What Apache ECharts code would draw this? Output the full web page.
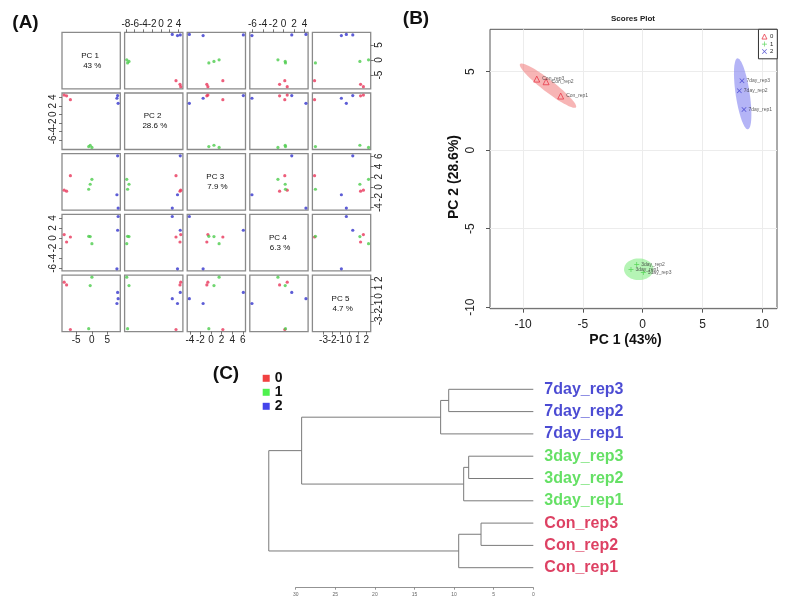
<!DOCTYPE html>
<html><head><meta charset="utf-8">
<script src="https://cdn.jsdelivr.net/npm/echarts@6/dist/echarts.min.js"></script>
<style>html,body{margin:0;padding:0;background:#fff}#c{width:801px;height:605px}</style>
</head><body><div id="c"></div>
<script>
// ---------- data ----------
const sampleNames = ['Con_rep1','Con_rep2','Con_rep3','3day_rep1','3day_rep2','3day_rep3','7day_rep1','7day_rep2','7day_rep3'];
const sampleGroups = [0,0,0,1,1,1,2,2,2];
const groupNames = ['0','1','2'];
const pc1 = [-6.86,-8.08,-8.86,-0.98,-0.50,0.05,8.47,8.08,8.30];
const pc2 = [3.44,4.35,4.52,-7.60,-7.28,-7.79,2.59,3.78,4.41];
const pc3 = [2.23,-0.80,-0.60,-0.42,0.55,1.52,-4.10,-1.50,6.10];
const pc4 = [0.22,-0.78,0.69,0.35,0.30,-1.10,4.29,-6.10,1.56];
const pc5 = [-4.05,1.32,1.65,-3.95,1.24,2.25,-0.34,-0.92,0.41];
const pcNames = ['PC 1','PC 2','PC 3','PC 4','PC 5'];
const pcVariance = ['43 %','28.6 %','7.9 %','6.3 %','4.7 %'];
const pc1Ticks = [-5,0,5];
const pc2Ticks = [-8,-6,-4,-2,0,2,4];
const pc3Ticks = [-4,-2,0,2,4,6];
const pc4Ticks = [-6,-4,-2,0,2,4];
const pc5Ticks = [-4,-3,-2,-1,0,1,2];
// scores plot (B)
const scoresXRange = [-12.77, 11.23];
const scoresYRange = [-10.1, 7.69];
const scoresXTicks = [-10,-5,0,5,10];
const scoresYTicks = [-10,-5,0,5];
const ellipseCx = [-7.92, -0.33, 8.36];
const ellipseCy = [4.10, -7.59, 3.58];
const ellipseU = [[2.34,-1.38],[1.23,0.0],[-0.44,2.26]];
const ellipseV = [[0.307,0.302],[0.0,0.69],[0.58,0.066]];
// dendrogram (C)
const leafLabels = ['7day_rep3','7day_rep2','7day_rep1','3day_rep3','3day_rep2','3day_rep1','Con_rep3','Con_rep2','Con_rep1'];
const leafGroups = [2,2,2,1,1,1,0,0,0];
const mergeA = [-1, 1, -4, 3, -7, 5, 2, 7];
const mergeB = [-2, -3, -5, -6, -8, -9, 4, 6];
const mergeHeight = [10.68, 11.70, 8.16, 8.79, 6.60, 9.42, 29.25, 33.40];
const heightTicks = [30,25,20,15,10,5,0];

// ---------- styles / layout ----------
const FONT = 'Liberation Sans, Arial, sans-serif';
const aColors = ['#e8365a','#4ccc4c','#3434cc'];
const bColors = ['#e8394a','#3fcf3f','#3a3acc'];
const ellipseFill = ['rgba(240,120,120,0.55)','rgba(120,235,120,0.55)','rgba(130,130,240,0.6)'];
const leafTextColors = ['#d4123c','#3ed83e','#1e1ec8'];
const legendCColors = ['#ee1111','#22ee22','#1515e6'];

const A_LEFT = 62, A_COLSTEP = 62.6, A_W = 58.3, A_TOP = 32.3, A_ROWSTEP = 60.7, A_H = 56.5;

const pcs = [pc1,pc2,pc3,pc4,pc5];
const pcTicks = [pc1Ticks,pc2Ticks,pc3Ticks,pc4Ticks,pc5Ticks];
const pcRanges = pcs.map(a => { const mn = Math.min(...a), mx = Math.max(...a), s = mx - mn; return [mn - 0.04*s, mx + 0.04*s]; });

const grids = [], xAxes = [], yAxes = [], series = [], graphics = [];

function pcAxis(k, g, pos, showIt, isY) {
  const ticks = pcTicks[k];
  const step = ticks[1] - ticks[0];
  return {
    type: 'value', gridIndex: g, min: pcRanges[k][0], max: pcRanges[k][1], position: pos,
    show: showIt, minInterval: step, maxInterval: step,
    axisLine: {show: false, onZero: false}, splitLine: {show: false},
    axisTick: {show: showIt, length: 3, lineStyle: {color: '#555', width: 0.8}, customValues: ticks},
    axisLabel: {show: showIt, customValues: ticks, fontSize: 10, color: '#222', fontFamily: FONT,
      rotate: isY ? 90 : 0, margin: isY ? 4 : 3.5,
      formatter: v => ticks.some(t => Math.abs(t - v) < 1e-6) ? String(Math.round(v)) : ''}
  };
}

for (let i = 0; i < 5; i++) {
  for (let j = 0; j < 5; j++) {
    const g = grids.length;
    const left = A_LEFT + j*A_COLSTEP, top = A_TOP + i*A_ROWSTEP;
    grids.push({left, top, width: A_W, height: A_H, show: true, borderColor: '#8a8a8a', borderWidth: 1.3,
      backgroundColor: 'transparent', outerBoundsMode: 'none', containLabel: false});
    const topAx = (i === 0 && j % 2 === 1), botAx = (i === 4 && j % 2 === 0);
    const leftAx = (j === 0 && i % 2 === 1), rightAx = (j === 4 && i % 2 === 0);
    xAxes.push(pcAxis(j, g, topAx ? 'top' : 'bottom', topAx || botAx, false));
    yAxes.push(pcAxis(i, g, rightAx ? 'right' : 'left', leftAx || rightAx, true));
    if (i === j) {
      graphics.push({type: 'text', x: left + A_W/2, y: top + A_H/2, silent: true,
        style: {text: pcNames[i] + ' \n ' + pcVariance[i], font: '8px ' + FONT, fill: '#111',
          textAlign: 'center', textVerticalAlign: 'middle', lineHeight: 10}});
    } else {
      series.push({type: 'scatter', xAxisIndex: g, yAxisIndex: g, symbol: 'circle', symbolSize: 3.2, silent: true,
        data: sampleNames.map((n, s) => ({name: n, value: [pcs[j][s], pcs[i][s]], itemStyle: {color: aColors[sampleGroups[s]]}}))});
    }
  }
}

// ---------- panel B ----------
const gB = grids.length;
grids.push({left: 490, top: 29.3, width: 287, height: 279.4, show: true, borderColor: '#555', borderWidth: 1,
  outerBoundsMode: 'none', containLabel: false});
xAxes.push({type: 'value', gridIndex: gB, min: scoresXRange[0], max: scoresXRange[1], minInterval: 5, maxInterval: 5,
  name: 'PC 1 (43%)', nameLocation: 'middle', nameGap: 24,
  nameTextStyle: {fontSize: 14, fontWeight: 'bold', color: '#111', fontFamily: FONT, padding: [0,16,0,0]},
  axisLine: {show: false, onZero: false},
  splitLine: {show: true, lineStyle: {color: '#ececec', width: 1}},
  axisTick: {show: true, length: 4, lineStyle: {color: '#555'}, customValues: scoresXTicks},
  axisLabel: {customValues: scoresXTicks, fontSize: 12, color: '#222', fontFamily: FONT, margin: 10,
    formatter: v => scoresXTicks.includes(v) ? String(v) : ''}});
yAxes.push({type: 'value', gridIndex: gB, min: scoresYRange[0], max: scoresYRange[1], minInterval: 5, maxInterval: 5,
  name: 'PC 2 (28.6%)', nameLocation: 'middle', nameGap: 29, nameRotate: 90,
  nameTextStyle: {fontSize: 14, fontWeight: 'bold', color: '#111', fontFamily: FONT, padding: [0,16,0,0]},
  axisLine: {show: false, onZero: false},
  splitLine: {show: true, lineStyle: {color: '#ececec', width: 1}},
  axisTick: {show: true, length: 4, lineStyle: {color: '#555'}, customValues: scoresYTicks},
  axisLabel: {customValues: scoresYTicks, fontSize: 12, color: '#222', fontFamily: FONT, margin: 13, rotate: 90,
    formatter: v => scoresYTicks.includes(v) ? String(v) : ''}});

series.push({type: 'custom', xAxisIndex: gB, yAxisIndex: gB, silent: true, z: 1,
  data: ellipseCx.map((cx, k) => [cx, ellipseCy[k], ellipseU[k][0], ellipseU[k][1], ellipseV[k][0], ellipseV[k][1], k]),
  renderItem: (params, api) => {
    const cx = api.value(0), cy = api.value(1), ux = api.value(2), uy = api.value(3), vx = api.value(4), vy = api.value(5);
    const pts = [];
    for (let t = 0; t < 72; t++) {
      const a = t / 72 * Math.PI * 2;
      pts.push(api.coord([cx + ux*Math.cos(a) + vx*Math.sin(a), cy + uy*Math.cos(a) + vy*Math.sin(a)]));
    }
    return {type: 'polygon', shape: {points: pts}, style: {fill: ellipseFill[api.value(6)], stroke: null}};
  }});

const bSymbols = ['triangle',
  'path://M0,4.3H10V5.7H0Z M4.3,0H5.7V10H4.3Z',
  'path://M1,0L5,4L9,0L10,1L6,5L10,9L9,10L5,6L1,10L0,9L4,5L0,1Z'];
const bSymbolSize = [6, 5, 5];
const bItemStyles = [
  {color: 'rgba(0,0,0,0)', borderColor: bColors[0], borderWidth: 1},
  {color: bColors[1]},
  {color: bColors[2]}];
groupNames.forEach((gname, gi) => {
  const idx = sampleNames.map((_, s) => s).filter(s => sampleGroups[s] === gi);
  series.push({type: 'scatter', name: gname, xAxisIndex: gB, yAxisIndex: gB, z: 3, silent: true,
    symbol: bSymbols[gi], symbolSize: bSymbolSize[gi],
    itemStyle: bItemStyles[gi],
    label: {show: true, position: 'right', distance: 2, fontSize: 5, color: '#333', fontFamily: FONT, formatter: p => p.name},
    data: idx.map(s => ({name: sampleNames[s], value: [pc1[s], pc2[s]]}))});
});

// ---------- panel C ----------
const gD = grids.length;
const H_MAX = 35, PX_PER_H = 7.92, X_ZERO = 533.3;
grids.push({left: X_ZERO - H_MAX*PX_PER_H, width: H_MAX*PX_PER_H, top: 378.15, height: 200.7, show: false,
  outerBoundsMode: 'none', containLabel: false});
xAxes.push({type: 'value', gridIndex: gD, min: 0, max: H_MAX, inverse: true, show: false});
yAxes.push({type: 'value', gridIndex: gD, min: -0.5, max: leafLabels.length - 0.5, inverse: true, show: false});

const gDA = grids.length;
grids.push({left: X_ZERO - 30*PX_PER_H, width: 30*PX_PER_H, top: 586.7, height: 1, show: false,
  outerBoundsMode: 'none', containLabel: false});
xAxes.push({type: 'value', gridIndex: gDA, min: 0, max: 30, inverse: true, minInterval: 5, maxInterval: 5,
  axisLine: {show: true, onZero: false, lineStyle: {color: '#777', width: 0.8}},
  axisTick: {show: true, length: 2, lineStyle: {color: '#777', width: 0.8}, customValues: heightTicks},
  splitLine: {show: false},
  axisLabel: {customValues: heightTicks, fontSize: 5, color: '#666', fontFamily: FONT, margin: 4}});
yAxes.push({type: 'value', gridIndex: gDA, min: 0, max: 1, show: false});

// compute dendrogram nodes from merges
const nodeY = [], nodeH = [];
function childPos(c) { return c < 0 ? [-c - 1, 0] : [nodeY[c - 1], nodeH[c - 1]]; }
const dendroData = [];
mergeHeight.forEach((h, m) => {
  const [ya, ha] = childPos(mergeA[m]);
  const [yb, hb] = childPos(mergeB[m]);
  nodeY.push((ya + yb) / 2); nodeH.push(h);
  dendroData.push([h, ya, yb, ha, hb]);
});
series.push({type: 'custom', xAxisIndex: gD, yAxisIndex: gD, silent: true,
  encode: {x: [0, 3, 4], y: [1, 2]},
  data: dendroData,
  renderItem: (params, api) => {
    const h = api.value(0), ya = api.value(1), yb = api.value(2), ha = api.value(3), hb = api.value(4);
    return {type: 'polyline', shape: {points: [api.coord([ha, ya]), api.coord([h, ya]), api.coord([h, yb]), api.coord([hb, yb])]},
      style: {stroke: '#7a7a7a', lineWidth: 1, fill: null}};
  }});

groupNames.forEach((gname, gi) => {
  series.push({type: 'scatter', name: 'C' + gname, xAxisIndex: gD, yAxisIndex: gD, silent: true,
    symbol: 'rect', symbolSize: 0.1, itemStyle: {color: legendCColors[gi]},
    label: {show: true, position: 'right', distance: 11, fontSize: 16, fontWeight: 'bold', fontFamily: FONT,
      color: leafTextColors[gi], formatter: p => p.name},
    data: leafLabels.map((l, k) => ({name: l, value: [0, k], g: leafGroups[k]})).filter(d => d.g === gi)
      .map(d => ({name: d.name, value: d.value}))});
});

// ---------- texts ----------
graphics.push({type: 'text', x: 25.5, y: 22.5, style: {text: '(A)', font: 'bold 19px ' + FONT, fill: '#111', textAlign: 'center', textVerticalAlign: 'middle'}});
graphics.push({type: 'text', x: 416, y: 19, style: {text: '(B)', font: 'bold 19px ' + FONT, fill: '#111', textAlign: 'center', textVerticalAlign: 'middle'}});
graphics.push({type: 'text', x: 226, y: 373.5, style: {text: '(C)', font: 'bold 19px ' + FONT, fill: '#111', textAlign: 'center', textVerticalAlign: 'middle'}});
graphics.push({type: 'text', x: 633, y: 18.3, style: {text: 'Scores Plot', font: 'bold 8px ' + FONT, fill: '#222', textAlign: 'center', textVerticalAlign: 'middle'}});

const chart = echarts.init(document.getElementById('c'), null, {renderer: 'canvas', width: 801, height: 605});
chart.setOption({
  animation: false,
  backgroundColor: '#fff',
  textStyle: {fontFamily: FONT},
  grid: grids, xAxis: xAxes, yAxis: yAxes, series,
  legend: [
    {data: groupNames.map((n, gi) => ({name: n, icon: bSymbols[gi], itemStyle: bItemStyles[gi]})),
      orient: 'vertical', right: 23.7, top: 29.3, itemWidth: 5, itemHeight: 5, itemGap: 0,
      padding: [3.5, 4, 3.5, 3], borderColor: '#333', borderWidth: 1, backgroundColor: '#fff',
      selectedMode: false, textStyle: {fontSize: 6, color: '#222', lineHeight: 7.5, padding: [0,0,0,-2]}},
    {data: groupNames.map(n => 'C' + n), orient: 'vertical', left: 262.7, top: 371.3, itemWidth: 7, itemHeight: 7,
      itemGap: 0, padding: 0, icon: 'rect', selectedMode: false, formatter: n => n.slice(1),
      textStyle: {fontSize: 14, fontWeight: 'bold', color: '#111', lineHeight: 14}}
  ],
  graphic: graphics
});
</script></body></html>
